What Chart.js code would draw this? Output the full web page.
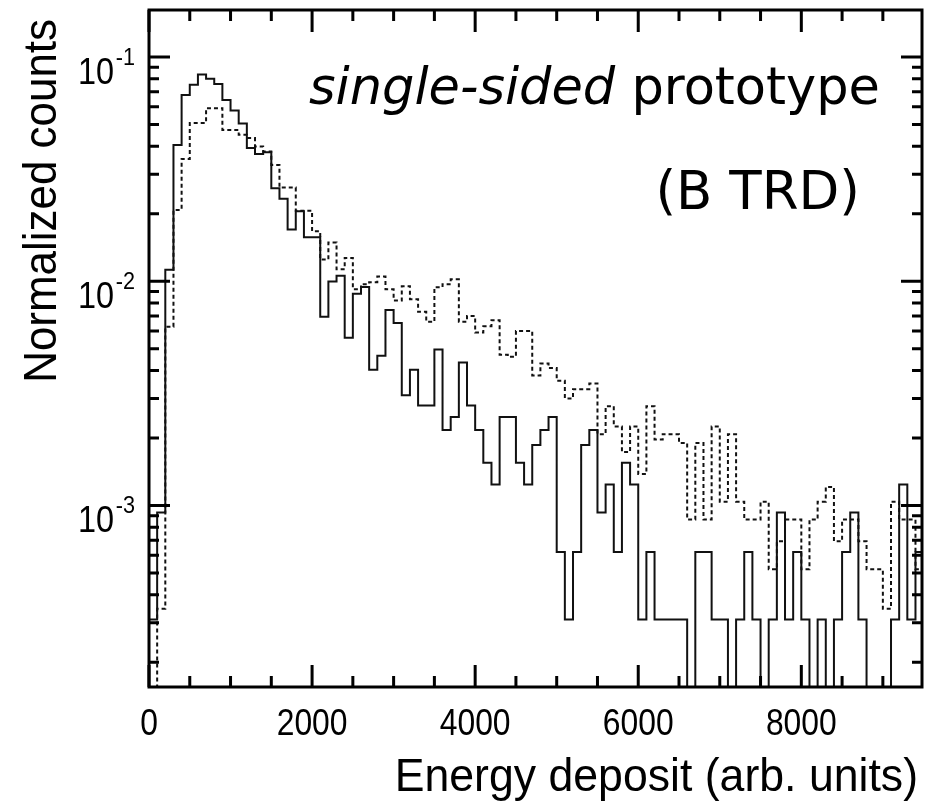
<!DOCTYPE html>
<html>
<head>
<meta charset="utf-8">
<script src="https://cdn.jsdelivr.net/npm/chart.js@4.4.1/dist/chart.umd.min.js"></script>
<style>
  html, body { margin: 0; padding: 0; background: #fff; }
  canvas { display: block; }
</style>
</head>
<body>
<canvas id="histChart" width="927" height="804"></canvas>
<script>
// lower edges of the 100-unit bins (arb. units), plus the closing edge
const binLow = [
    0, 100, 200, 300, 400, 500, 600, 700, 800, 900,
    1000, 1100, 1200, 1300, 1400, 1500, 1600, 1700, 1800, 1900,
    2000, 2100, 2200, 2300, 2400, 2500, 2600, 2700, 2800, 2900,
    3000, 3100, 3200, 3300, 3400, 3500, 3600, 3700, 3800, 3900,
    4000, 4100, 4200, 4300, 4400, 4500, 4600, 4700, 4800, 4900,
    5000, 5100, 5200, 5300, 5400, 5500, 5600, 5700, 5800, 5900,
    6000, 6100, 6200, 6300, 6400, 6500, 6600, 6700, 6800, 6900,
    7000, 7100, 7200, 7300, 7400, 7500, 7600, 7700, 7800, 7900,
    8000, 8100, 8200, 8300, 8400, 8500, 8600, 8700, 8800, 8900,
    9000, 9100, 9200, 9300, 9400
];
const binEnd = 9500;

// solid histogram (normalized counts per bin)
const histSolid = [
    0.00031, 0.00093, 0.01125, 0.0405, 0.0677, 0.0752, 0.0835, 0.0800, 0.0758, 0.0643,
    0.0577, 0.0505, 0.0393, 0.0369, 0.0376, 0.0260, 0.0233, 0.0170, 0.0205, 0.0157,
    0.0157, 0.00695, 0.00996, 0.01058, 0.0056, 0.0088, 0.00942, 0.00403, 0.00465, 0.00744,
    0.00651, 0.0031, 0.00403, 0.00279, 0.00279, 0.00496, 0.00217, 0.00248, 0.00434, 0.00279,
    0.00217, 0.00155, 0.00124, 0.00248, 0.00248, 0.00155, 0.00124, 0.00186, 0.00217, 0.00248,
    0.00062, 0.00031, 0.00062, 0.00186, 0.00217, 0.00093, 0.00124, 0.00062, 0.00155, 0.00124,
    0.00031, 0.00062, 0.00031, 0.00031, 0.00031, 0.00031, 0, 0.00062, 0.00062, 0.00031,
    0.00031, 0, 0.00031, 0.00062, 0.00031, 0, 0.00031, 0.00093, 0.00031, 0.00062,
    0.00031, 0, 0.00031, 0, 0.00031, 0.00062, 0.00093, 0.00031, 0, 0,
    0, 0.00031, 0.00124, 0.00031, 0.00062
];

// dashed histogram
const histDashed = [
    0, 0.000346, 0.00627, 0.0208, 0.0351, 0.0508, 0.0508, 0.0591, 0.0591, 0.0473,
    0.0473, 0.0450, 0.0435, 0.0399, 0.0379, 0.0330, 0.0262, 0.0262, 0.0206, 0.0206,
    0.0167, 0.0125, 0.0149, 0.0113, 0.0127, 0.0092, 0.0097, 0.0099, 0.0105, 0.0092,
    0.0082, 0.0095, 0.0083, 0.0073, 0.0066, 0.0094, 0.0097, 0.0102, 0.0066, 0.0070,
    0.0059, 0.0063, 0.0067, 0.0047, 0.0046, 0.0060, 0.0060, 0.0038, 0.0043, 0.0041,
    0.0036, 0.0030, 0.0033, 0.0033, 0.0035, 0.00208, 0.00277, 0.00225, 0.00173, 0.00225,
    0.00138, 0.00277, 0.00197, 0.00208, 0.00208, 0.0019, 0.000865, 0.0019, 0.000865, 0.00225,
    0.00104, 0.00208, 0.00104, 0.000865, 0.000865, 0.00104, 0.000519, 0.000692, 0.000865, 0.000865,
    0.000519, 0.000865, 0.00104, 0.00121, 0.000692, 0.000865, 0.000865, 0.000692, 0.000519, 0.000519,
    0.000346, 0.00104, 0.000865, 0.000865, 0.000519
];

const xMajorTicks = [0, 2000, 4000, 6000, 8000];
const xMinorTicks = [500, 1000, 1500, 2500, 3000, 3500, 4500, 5000, 5500, 6500, 7000, 7500, 8500, 9000];
const yMajorTicks = [0.001, 0.01, 0.1];
const yMajorExp = ['-3', '-2', '-1'];
const yMinorTicks = [
    0.0002, 0.0003, 0.0004, 0.0005, 0.0006, 0.0007, 0.0008, 0.0009,
    0.002, 0.003, 0.004, 0.005, 0.006, 0.007, 0.008, 0.009,
    0.02, 0.03, 0.04, 0.05, 0.06, 0.07, 0.08, 0.09
];

const xMin = 0, xMax = 9480;
const yMin = 1.55e-4, yMax = 0.162;
const emptyBin = yMin / 10;   // empty bins drop below the frame

function toSteps(vals) {
    const pts = binLow.map((x, i) => ({ x: x, y: vals[i] > 0 ? vals[i] : emptyBin }));
    const last = vals[vals.length - 1];
    pts.push({ x: binEnd, y: last > 0 ? last : emptyBin });
    return pts;
}

const SANS = '"Liberation Sans", Arial, sans-serif';
const ANN = '"DejaVu Sans", Verdana, sans-serif';

// frame, inward ticks and all the labels
const framePlugin = {
    id: 'frame',
    afterDraw(chart) {
        const ctx = chart.ctx;
        const a = chart.chartArea;
        const x = chart.scales.x, y = chart.scales.y;
        ctx.save();
        ctx.strokeStyle = '#000';
        ctx.lineWidth = 3;
        ctx.lineCap = 'butt';
        ctx.beginPath();
        xMajorTicks.forEach(v => {
            const px = x.getPixelForValue(v);
            ctx.moveTo(px, a.bottom); ctx.lineTo(px, a.bottom - 22);
            ctx.moveTo(px, a.top); ctx.lineTo(px, a.top + 22);
        });
        xMinorTicks.forEach(v => {
            const px = x.getPixelForValue(v);
            ctx.moveTo(px, a.bottom); ctx.lineTo(px, a.bottom - 11);
            ctx.moveTo(px, a.top); ctx.lineTo(px, a.top + 11);
        });
        yMajorTicks.forEach(v => {
            const py = y.getPixelForValue(v);
            ctx.moveTo(a.left, py); ctx.lineTo(a.left + 21, py);
            ctx.moveTo(a.right, py); ctx.lineTo(a.right - 21, py);
        });
        yMinorTicks.forEach(v => {
            const py = y.getPixelForValue(v);
            ctx.moveTo(a.left, py); ctx.lineTo(a.left + 10, py);
            ctx.moveTo(a.right, py); ctx.lineTo(a.right - 10, py);
        });
        ctx.stroke();
        ctx.strokeRect(a.left, a.top, a.right - a.left, a.bottom - a.top);

        ctx.fillStyle = '#000';
        ctx.textBaseline = 'alphabetic';

        // x tick labels (slightly condensed like the original)
        ctx.font = '37px ' + SANS;
        xMajorTicks.forEach(v => {
            const px = x.getPixelForValue(v);
            ctx.save();
            ctx.translate(px, 735);
            ctx.scale(0.86, 1);
            ctx.textAlign = 'center';
            ctx.fillText(String(v), 0, 0);
            ctx.restore();
        });

        // y tick labels 10^n
        yMajorTicks.forEach((v, i) => {
            const py = y.getPixelForValue(v);
            ctx.save();
            ctx.translate(114, py + 27);
            ctx.scale(0.9, 1);
            ctx.textAlign = 'right';
            ctx.font = '36px ' + SANS;
            ctx.fillText('10', 0, 0);
            ctx.textAlign = 'left';
            ctx.font = '24px ' + SANS;
            ctx.fillText(yMajorExp[i], 2, -19);
            ctx.restore();
        });

        // axis titles
        ctx.font = '46px ' + SANS;
        ctx.save();
        ctx.translate(918, 791);
        ctx.scale(0.97, 1);
        ctx.textAlign = 'right';
        ctx.fillText('Energy deposit (arb. units)', 0, 0);
        ctx.restore();

        ctx.save();
        ctx.translate(56, 19);
        ctx.rotate(-Math.PI / 2);
        ctx.scale(0.955, 1);
        ctx.textAlign = 'right';
        ctx.fillText('Normalized counts', 0, 0);
        ctx.restore();

        // annotation
        ctx.textAlign = 'left';
        ctx.font = '51px ' + ANN;
        const wReg = ctx.measureText(' prototype').width;
        ctx.font = 'italic 51px ' + ANN;
        const wIt = ctx.measureText('single-sided').width;
        const startX = 880 - wReg - wIt;
        ctx.fillText('single-sided', startX, 104);
        ctx.font = '51px ' + ANN;
        ctx.fillText(' prototype', startX + wIt, 104);
        ctx.font = '53px ' + ANN;
        ctx.textAlign = 'right';
        ctx.fillText('(B TRD)', 860, 209);
        ctx.restore();
    }
};

new Chart(document.getElementById('histChart').getContext('2d'), {
    type: 'line',
    data: {
        datasets: [
            {
                label: 'solid',
                data: toSteps(histSolid),
                stepped: 'before',
                borderColor: '#111',
                borderWidth: 2,
                pointRadius: 0,
                fill: false
            },
            {
                label: 'dashed',
                data: toSteps(histDashed),
                stepped: 'before',
                borderColor: '#111',
                borderWidth: 2,
                borderDash: [4, 3],
                pointRadius: 0,
                fill: false
            }
        ]
    },
    options: {
        responsive: false,
        animation: false,
        layout: { padding: { top: 10, right: 5, left: 0, bottom: 0 } },
        plugins: {
            legend: { display: false },
            tooltip: { enabled: false }
        },
        scales: {
            x: {
                type: 'linear',
                min: xMin,
                max: xMax,
                grid: { display: false },
                border: { display: false },
                ticks: { display: false },
                afterFit(s) { s.height = 117; }
            },
            y: {
                type: 'logarithmic',
                min: yMin,
                max: yMax,
                grid: { display: false },
                border: { display: false },
                ticks: { display: false },
                afterFit(s) { s.width = 149; }
            }
        }
    },
    plugins: [framePlugin]
});
</script>
</body>
</html>
